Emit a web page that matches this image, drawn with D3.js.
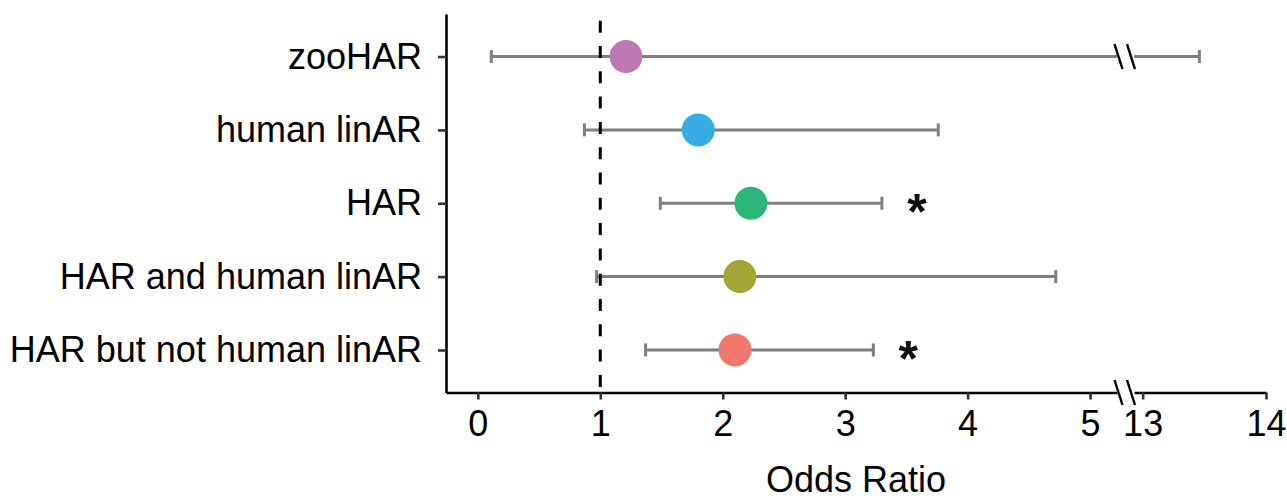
<!DOCTYPE html>
<html>
<head>
<meta charset="utf-8">
<script src="https://cdn.jsdelivr.net/npm/d3@7"></script>
<style>
  html, body { margin: 0; padding: 0; background: #fff; }
  svg text { font-family: "Liberation Sans", Arial, Helvetica, sans-serif; }
</style>
</head>
<body>
<svg id="chart" width="1287" height="500"></svg>
<script>
// Odds ratios with 95% confidence intervals per accelerated-region set
const categories = ["zooHAR", "human linAR", "HAR", "HAR and human linAR", "HAR but not human linAR"];
const oddsRatio  = [1.21, 1.80, 2.23, 2.14, 2.10];
const ciLow      = [0.11, 0.87, 1.49, 0.97, 1.37];
const ciHigh     = [13.46, 3.76, 3.30, 4.72, 3.23];
const significant = [false, false, true, false, true];
const colors     = ["#BE78B2", "#36ACE2", "#2BB779", "#A3A535", "#F1766C"];

// Broken x axis: two linear pieces
const leftTicks  = [0, 1, 2, 3, 4, 5];
const rightTicks = [13, 14];
const leftDomain  = [-0.26, 5.22];
const rightDomain = [12.93, 14];
const referenceOR = 1;

const svg = d3.select("#chart");
const axisY = 392.5, axisTop = 14, axisLeft = 446;

const xL = d3.scaleLinear().domain(leftDomain).range([axisLeft, 1117]);
const xR = d3.scaleLinear().domain(rightDomain).range([1134, 1266]);
const y = d3.scalePoint().domain(categories).range([axisTop, axisY]).padding(0.58);

const x = v => (v <= leftDomain[1] ? xL(v) : xR(v));

const fontSize = 36;

// Axes
const gxL = svg.append("g").attr("transform", `translate(0,${axisY})`)
  .call(d3.axisBottom(xL).tickValues(leftTicks).tickSize(7).tickSizeOuter(0).tickPadding(11).tickFormat(d3.format("d")));
const gxR = svg.append("g").attr("transform", `translate(0,${axisY})`)
  .call(d3.axisBottom(xR).tickValues(rightTicks).tickSize(7).tickSizeOuter(0).tickPadding(11).tickFormat(d3.format("d")));
const gy = svg.append("g").attr("transform", `translate(${axisLeft},0)`)
  .call(d3.axisLeft(y).tickSize(8).tickSizeOuter(0).tickPadding(16));

[gxL, gxR, gy].forEach(g => {
  g.select(".domain").attr("stroke", "#000").attr("stroke-width", 2.6);
  g.selectAll(".tick line").attr("stroke", "#333").attr("stroke-width", 2.6);
  g.selectAll(".tick text").attr("font-size", fontSize).attr("fill", "#000")
    .style("font-family", '"Liberation Sans", Arial, Helvetica, sans-serif');
});

// Break marks
function breakMarks(cy) {
  const c1 = xL(leftDomain[1]) + 1.5, c2 = xR(rightDomain[0]) - 3;
  [c1, c2].forEach(cx => {
    svg.append("line")
      .attr("x1", cx - 4).attr("y1", cy - 12.5)
      .attr("x2", cx + 4).attr("y2", cy + 12.5)
      .attr("stroke", "#000").attr("stroke-width", 2.4);
  });
}
breakMarks(axisY);

// Axis title
svg.append("text")
  .attr("x", (axisLeft + xR(rightDomain[1])) / 2)
  .attr("y", 492)
  .attr("text-anchor", "middle")
  .attr("font-size", fontSize)
  .attr("fill", "#000")
  .text("Odds Ratio");

// Error bars
const capHalf = 6.5;
categories.forEach((c, i) => {
  const cy = y(c);
  const lo = ciLow[i], hi = ciHigh[i];
  const g = svg.append("g").attr("stroke", "#7f7f7f").attr("stroke-width", 3);
  if (hi > leftDomain[1]) {
    g.append("line").attr("x1", x(lo)).attr("x2", xL(leftDomain[1])).attr("y1", cy).attr("y2", cy);
    g.append("line").attr("x1", xR(rightDomain[0])).attr("x2", x(hi)).attr("y1", cy).attr("y2", cy);
  } else {
    g.append("line").attr("x1", x(lo)).attr("x2", x(hi)).attr("y1", cy).attr("y2", cy);
  }
  [lo, hi].forEach(v => {
    g.append("line").attr("x1", x(v)).attr("x2", x(v)).attr("y1", cy - capHalf).attr("y2", cy + capHalf);
  });
  if (hi > leftDomain[1]) breakMarks(cy);
});

// Reference line at OR = 1
svg.append("line")
  .attr("x1", xL(referenceOR)).attr("x2", xL(referenceOR))
  .attr("y1", axisTop).attr("y2", axisY)
  .attr("stroke", "#000").attr("stroke-width", 3)
  .attr("stroke-dasharray", "12,13.3")
  .attr("stroke-dashoffset", -6.7);

// Point estimates
svg.selectAll("circle.pt")
  .data(categories)
  .join("circle")
  .attr("class", "pt")
  .attr("cx", (c, i) => x(oddsRatio[i]))
  .attr("cy", c => y(c))
  .attr("r", 16.5)
  .attr("fill", (c, i) => colors[i]);

// Significance markers
categories.forEach((c, i) => {
  if (!significant[i]) return;
  svg.append("text")
    .attr("x", x(ciHigh[i]) + 35)
    .attr("y", y(c) + 26)
    .attr("text-anchor", "middle")
    .attr("font-size", 50)
    .attr("font-weight", "bold")
    .attr("fill", "#111")
    .text("*");
});
</script>
</body>
</html>
